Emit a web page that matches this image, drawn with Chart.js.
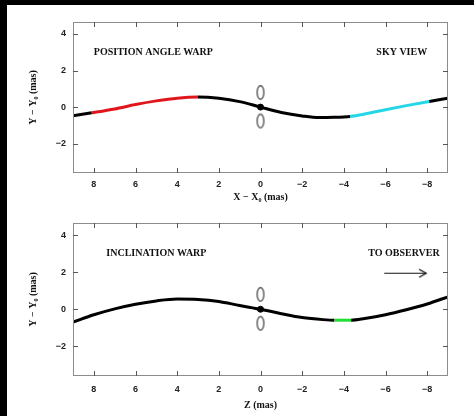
<!DOCTYPE html>
<html>
<head>
<meta charset="utf-8">
<script src="https://cdn.jsdelivr.net/npm/chart.js@4"></script>
<style>
  html, body { margin: 0; padding: 0; background: #000; }
  #sheet { position: absolute; left: 7px; top: 5px; width: 467px; height: 411px; background: #fff; }
  .panel { position: absolute; left: 0; width: 474px; height: 208px; }
  canvas { display: block; }
</style>
</head>
<body>
<div id="sheet"></div>
<div class="panel" style="top:0"><canvas id="skyView" width="474" height="208"></canvas></div>
<div class="panel" style="top:208px"><canvas id="inclView" width="474" height="208"></canvas></div>
<script>
// Tick values shared by both panels
const xTicks = [8, 6, 4, 2, 0, -2, -4, -6, -8];
const yTicks = [-2, 0, 2, 4];

// Position angle warp: projected disk midline on the sky (mas)
const paX = [9, 8.1, 7, 6, 5, 4, 3, 2, 1, 0, -1, -2, -2.8, -3.5, -4.3, -5, -6, -7, -8.1, -9];
const paY = [-0.47, -0.31, -0.1, 0.14, 0.34, 0.49, 0.55, 0.48, 0.3, 0, -0.29, -0.48, -0.57, -0.56, -0.51, -0.38, -0.14, 0.08, 0.31, 0.49];
// x-ranges of the highlighted stretches of that midline
const paRed = [3, 8.1];
const paCyan = [-8.1, -4.3];

// Inclination warp: disk midline seen edge-on (mas)
const incX = [9, 8, 7, 6, 5, 4, 3, 2, 1, 0, -1, -2, -3, -3.55, -4.35, -5, -6, -7, -8, -9];
const incY = [-0.69, -0.3, 0.02, 0.27, 0.45, 0.55, 0.53, 0.42, 0.2, 0, -0.24, -0.45, -0.56, -0.59, -0.59, -0.5, -0.3, -0.03, 0.28, 0.67];
const incGreen = [-4.35, -3.55];

// Central source: the nucleus and the two open rings above and below it
const coreX = [0];
const coreY = [0];
const ringX = [0, 0];
const ringY = [0.8, -0.76];

// Observer direction arrow (bottom panel)
const arrowX = [-5.94, -7.95];
const arrowY = [1.94, 1.94];

const SERIF = '"Liberation Serif", "DejaVu Serif", serif';
const SANS = '"Liberation Sans", "DejaVu Sans", sans-serif';

function ringImage() {
  const c = document.createElement('canvas');
  c.width = 10; c.height = 17;
  const g = c.getContext('2d');
  g.strokeStyle = '#4a4a4a';
  g.lineWidth = 1.3;
  g.beginPath();
  g.ellipse(5, 8.5, 3.4, 6.8, 0, 0, Math.PI * 2);
  g.stroke();
  return c;
}

function arrowHead() {
  const c = document.createElement('canvas');
  c.width = 18; c.height = 12;
  const g = c.getContext('2d');
  g.strokeStyle = '#111';
  g.lineWidth = 1.3;
  g.beginPath();
  g.moveTo(2, 2); g.lineTo(9, 6); g.lineTo(2, 10);
  g.stroke();
  return c;
}

function pts(xs, ys) { return xs.map((x, i) => ({ x, y: ys[i] })); }

function inRange(v, r) { return v >= Math.min(r[0], r[1]) - 1e-9 && v <= Math.max(r[0], r[1]) + 1e-9; }

function segColor(ranges) {
  return ctx => {
    const a = ctx.p0.parsed.x, b = ctx.p1.parsed.x;
    for (const [r, col] of ranges) {
      if (inRange(a, r) && inRange(b, r)) return col;
    }
    return '#000';
  };
}

const minus = v => (v < 0 ? '\u2212' + Math.abs(v) : String(v));

// Box frame with inward tick marks on all four sides
const framePlugin = {
  id: 'frame',
  afterDraw(chart) {
    const { ctx, chartArea: a, scales: { x, y } } = chart;
    ctx.save();
    ctx.strokeStyle = '#8c8c8c';
    ctx.lineWidth = 1;
    ctx.strokeRect(a.left + 0.5, a.top + 0.5, a.right - a.left - 1, a.bottom - a.top - 1);
    ctx.strokeStyle = '#555';
    ctx.beginPath();
    x.ticks.forEach(t => {
      const px = Math.round(x.getPixelForValue(t.value)) + 0.5;
      ctx.moveTo(px, a.top); ctx.lineTo(px, a.top + 5);
      ctx.moveTo(px, a.bottom); ctx.lineTo(px, a.bottom - 5);
    });
    y.ticks.forEach(t => {
      const py = Math.round(y.getPixelForValue(t.value)) + 0.5;
      ctx.moveTo(a.left, py); ctx.lineTo(a.left + 5, py);
      ctx.moveTo(a.right, py); ctx.lineTo(a.right - 5, py);
    });
    ctx.stroke();
    ctx.restore();
  }
};

// Text notes placed in data coordinates
const notesPlugin = {
  id: 'notes',
  afterDatasetsDraw(chart, args, opts) {
    const { ctx, scales: { x, y } } = chart;
    ctx.save();
    ctx.fillStyle = '#111';
    ctx.font = 'bold 10px ' + SERIF;
    ctx.textBaseline = 'middle';
    (opts.items || []).forEach(n => {
      ctx.textAlign = n.align;
      ctx.fillText(n.text, x.getPixelForValue(n.x), y.getPixelForValue(n.y));
    });
    ctx.restore();
  }
};

function panel(id, cfg) {
  return new Chart(document.getElementById(id), {
    type: 'scatter',
    data: { datasets: cfg.datasets },
    options: {
      responsive: false,
      animation: false,
      layout: { padding: { top: cfg.padTop, right: 26, left: 0, bottom: 0 } },
      plugins: { legend: { display: false }, tooltip: { enabled: false }, notes: { items: cfg.notes } },
      scales: {
        x: {
          type: 'linear', min: -9, max: 9, reverse: true,
          grid: { display: false, drawTicks: false }, border: { display: false },
          afterBuildTicks: s => { s.ticks = xTicks.map(v => ({ value: v })); },
          afterFit: s => { s.height = cfg.xHeight; },
          ticks: { padding: cfg.tickPad, color: '#222', font: { family: SANS, size: 9, weight: 'bold' }, callback: minus },
          title: { display: true, text: cfg.xTitle, color: '#111', padding: { top: 0, bottom: 5 }, font: { family: SERIF, size: 10, weight: 'bold' } }
        },
        y: {
          type: 'linear', min: -3.6, max: 4.65,
          grid: { display: false, drawTicks: false }, border: { display: false },
          afterBuildTicks: s => { s.ticks = yTicks.map(v => ({ value: v })); },
          afterFit: s => { s.width = 73; },
          ticks: { padding: 7, color: '#222', font: { family: SANS, size: 9, weight: 'bold' }, callback: minus },
          title: { display: true, text: 'Y \u2212 Y\u2080 (mas)', color: '#111', padding: { top: 27, bottom: 0 }, font: { family: SERIF, size: 10, weight: 'bold' } }
        }
      }
    },
    plugins: [framePlugin, notesPlugin]
  });
}

const ring = ringImage();

function centralSets() {
  return [
    { data: pts(ringX, ringY), showLine: false, pointStyle: ring, pointRadius: 8 },
    { data: pts(coreX, coreY), showLine: false, pointRadius: 3, backgroundColor: '#000', borderColor: '#000' }
  ];
}

panel('skyView', {
  padTop: 22, xHeight: 35, tickPad: 6,
  xTitle: 'X \u2212 X\u2080 (mas)',
  notes: [
    { text: 'POSITION ANGLE WARP', x: 8, y: 3, align: 'left' },
    { text: 'SKY VIEW', x: -8, y: 3, align: 'right' }
  ],
  datasets: [
    {
      data: pts(paX, paY), showLine: true, borderWidth: 3, borderColor: '#000', pointRadius: 0,
      cubicInterpolationMode: 'monotone',
      segment: { borderColor: segColor([[paRed, '#e0161c'], [paCyan, '#25d7e6']]) }
    },
    ...centralSets()
  ]
});

panel('inclView', {
  padTop: 15, xHeight: 40, tickPad: 8,
  xTitle: 'Z (mas)',
  notes: [
    { text: 'INCLINATION WARP', x: 7.4, y: 3, align: 'left' },
    { text: 'TO OBSERVER', x: -8.6, y: 3, align: 'right' }
  ],
  datasets: [
    {
      data: pts(incX, incY), showLine: true, borderWidth: 3, borderColor: '#000', pointRadius: 0,
      cubicInterpolationMode: 'monotone',
      segment: { borderColor: segColor([[incGreen, '#22dd33']]) }
    },
    {
      data: pts(arrowX, arrowY), showLine: true, borderWidth: 1.2, borderColor: '#111',
      pointStyle: arrowHead(), pointRadius: [0, 6]
    },
    ...centralSets()
  ]
});
</script>
</body>
</html>
